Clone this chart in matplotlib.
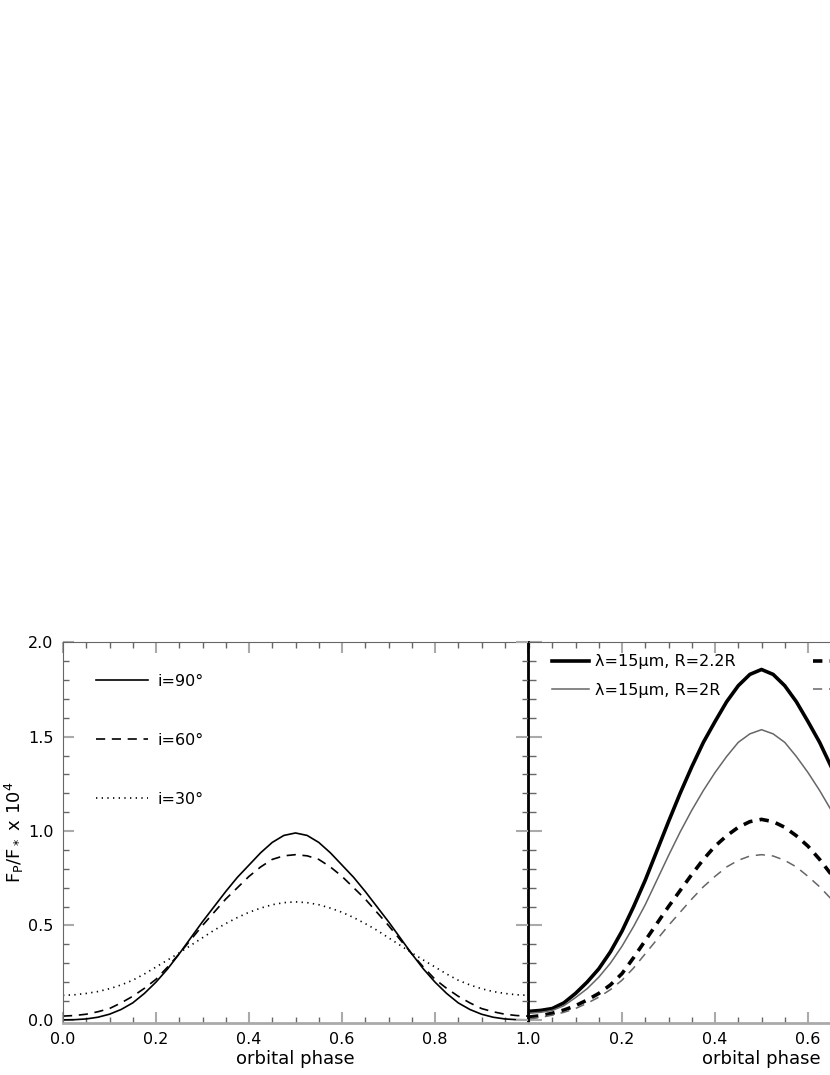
import matplotlib
matplotlib.use("Agg")
import matplotlib.pyplot as plt
from matplotlib.ticker import MultipleLocator

plt.rcParams['font.family'] = ['DejaVu Sans']

# orbital phase grid (read every 0.025)
phase = [0.0, 0.025, 0.05, 0.075, 0.10, 0.125, 0.15, 0.175, 0.20, 0.225,
         0.25, 0.275, 0.30, 0.325, 0.35, 0.375, 0.40, 0.425, 0.45, 0.475,
         0.50, 0.525, 0.55, 0.575, 0.60, 0.625, 0.65, 0.675, 0.70, 0.725,
         0.75, 0.775, 0.80, 0.825, 0.85, 0.875, 0.90, 0.925, 0.95, 0.975, 1.0]

# left panel: inclinations
incl_labels = ['i=90°', 'i=60°', 'i=30°']
flux_i90 = [0.0, 0.001, 0.005, 0.014, 0.03, 0.055, 0.09, 0.14, 0.20, 0.27,
            0.35, 0.435, 0.52, 0.60, 0.68, 0.755, 0.82, 0.885, 0.94, 0.977,
            0.99, 0.977, 0.94, 0.885, 0.82, 0.755, 0.68, 0.60, 0.52, 0.435,
            0.35, 0.27, 0.20, 0.14, 0.09, 0.055, 0.03, 0.014, 0.005, 0.001, 0.0]
flux_i60 = [0.02, 0.023, 0.03, 0.043, 0.06, 0.09, 0.125, 0.167, 0.215, 0.28,
            0.35, 0.425, 0.50, 0.57, 0.64, 0.70, 0.76, 0.81, 0.85, 0.869,
            0.875, 0.869, 0.85, 0.81, 0.76, 0.70, 0.64, 0.57, 0.50, 0.425,
            0.35, 0.28, 0.215, 0.167, 0.125, 0.09, 0.06, 0.043, 0.03, 0.023, 0.02]
flux_i30 = [0.13, 0.133, 0.14, 0.15, 0.165, 0.185, 0.21, 0.243, 0.28, 0.317,
            0.355, 0.395, 0.435, 0.475, 0.51, 0.542, 0.57, 0.592, 0.61, 0.621,
            0.625, 0.621, 0.61, 0.592, 0.57, 0.542, 0.51, 0.475, 0.435, 0.395,
            0.355, 0.317, 0.28, 0.243, 0.21, 0.185, 0.165, 0.15, 0.14, 0.133, 0.13]

# right panel: wavelength / radius
wl_labels = ['λ=15μm, R=2.2R', 'λ=15μm, R=2R', 'λ=8μm, R=2.2R', 'λ=8μm, R=2R']
flux_15_22 = [0.045, 0.05, 0.06, 0.09, 0.14, 0.20, 0.27, 0.36, 0.47, 0.60,
              0.74, 0.895, 1.05, 1.20, 1.34, 1.47, 1.58, 1.685, 1.77, 1.83,
              1.856, 1.83, 1.77, 1.685, 1.58, 1.47, 1.34, 1.20, 1.05, 0.895,
              0.74, 0.60, 0.47, 0.36, 0.27, 0.20, 0.14, 0.09, 0.06, 0.05, 0.045]
flux_15_2 = [0.035, 0.04, 0.05, 0.075, 0.118, 0.165, 0.226, 0.30, 0.39, 0.495,
             0.61, 0.74, 0.87, 0.995, 1.11, 1.215, 1.31, 1.395, 1.47, 1.515,
             1.537, 1.515, 1.47, 1.395, 1.31, 1.215, 1.11, 0.995, 0.87, 0.74,
             0.61, 0.495, 0.39, 0.30, 0.226, 0.165, 0.118, 0.075, 0.05, 0.04, 0.035]
flux_8_22 = [0.015, 0.022, 0.035, 0.052, 0.075, 0.105, 0.14, 0.185, 0.245, 0.33,
             0.42, 0.51, 0.60, 0.685, 0.77, 0.85, 0.92, 0.975, 1.02, 1.05,
             1.062, 1.05, 1.02, 0.975, 0.92, 0.85, 0.77, 0.685, 0.60, 0.51,
             0.42, 0.33, 0.245, 0.185, 0.14, 0.105, 0.075, 0.052, 0.035, 0.022, 0.015]
flux_8_2 = [0.005, 0.013, 0.025, 0.04, 0.06, 0.088, 0.12, 0.16, 0.21, 0.275,
            0.35, 0.425, 0.50, 0.57, 0.64, 0.705, 0.76, 0.81, 0.845, 0.868,
            0.875, 0.868, 0.845, 0.81, 0.76, 0.705, 0.64, 0.57, 0.50, 0.425,
            0.35, 0.275, 0.21, 0.16, 0.12, 0.088, 0.06, 0.04, 0.025, 0.013, 0.005]

fig = plt.figure(figsize=(8.3, 10.75), dpi=100)
ax1 = fig.add_axes([63/830, 52.3/1075, 465/830, 380.4/1075])
# right panel runs past the figure edge, as in the cropped original
ax2 = fig.add_axes([529/830, 52.3/1075, 465/830, 380.4/1075])

ax1.plot(phase, flux_i90, color='black', lw=1.2, label=incl_labels[0])
ax1.plot(phase, flux_i60, color='black', lw=1.2, ls=(0, (5.5, 4)), label=incl_labels[1])
ax1.plot(phase, flux_i30, color='black', lw=1.2, ls=(0, (0.8, 2.6)), label=incl_labels[2])

ax2.plot(phase, flux_15_22, color='black', lw=2.6, label=wl_labels[0])
ax2.plot(phase, flux_15_2, color='#666666', lw=1.1, label=wl_labels[1])
ax2.plot(phase, flux_8_22, color='black', lw=2.6, ls=(0, (2.6, 2.0)), label=wl_labels[2])
ax2.plot(phase, flux_8_2, color='#666666', lw=1.1, ls=(0, (6, 4.5)), label=wl_labels[3])

for ax in (ax1, ax2):
    ax.set_xlim(0, 1)
    ax.set_ylim(-0.015, 2.0)
    ax.xaxis.set_major_locator(MultipleLocator(0.2))
    ax.xaxis.set_minor_locator(MultipleLocator(0.05))
    ax.yaxis.set_major_locator(MultipleLocator(0.5))
    ax.yaxis.set_minor_locator(MultipleLocator(0.1))
    ax.tick_params(which='both', direction='in', top=True, right=False,
                   labelsize=11.5, pad=7)
    ax.tick_params(which='major', length=8, color='#aaaaaa', width=1.5)
    ax.tick_params(which='minor', length=4.5, color='#666666', width=1)
    ax.set_xlabel('orbital phase', fontsize=13, labelpad=2)
    ax.spines['top'].set_color('#666666')
    ax.spines['bottom'].set_color('#aaaaaa')
    ax.spines['bottom'].set_linewidth(2)

ax1.xaxis.set_major_formatter(plt.FormatStrFormatter('%.1f'))
ax1.yaxis.set_major_formatter(plt.FormatStrFormatter('%.1f'))
ax1.spines['left'].set_color('#666666')
ax1.spines['right'].set_color('black')
ax1.spines['right'].set_linewidth(1.3)
ax1.set_ylabel('F$_\\mathrm{P}$/F$_*$ x 10$^4$', fontsize=13, labelpad=1)

ax2.spines['left'].set_color('black')
ax2.spines['left'].set_linewidth(1.3)
ax2.spines['right'].set_visible(False)
ax2.tick_params(axis='y', which='both', direction='inout', labelleft=False)
ax2.tick_params(axis='y', which='major', length=19)
ax2.tick_params(axis='y', which='minor', length=10)
ax2.set_xticks([0.2, 0.4, 0.6])
ax2.set_xticklabels(['0.2', '0.4', '0.6'])

ax1.legend(loc='upper left', bbox_to_anchor=(0.041, 0.955), frameon=False,
           fontsize=11.5, handlelength=3.2, handletextpad=0.65, labelspacing=2.75)
ax2.legend(loc='upper left', bbox_to_anchor=(0.019, 1.006), frameon=False, ncol=2,
           fontsize=11.5, handlelength=2.3, handletextpad=0.4, labelspacing=0.85,
           columnspacing=4.8)

fig.savefig('out.png', dpi=100)
